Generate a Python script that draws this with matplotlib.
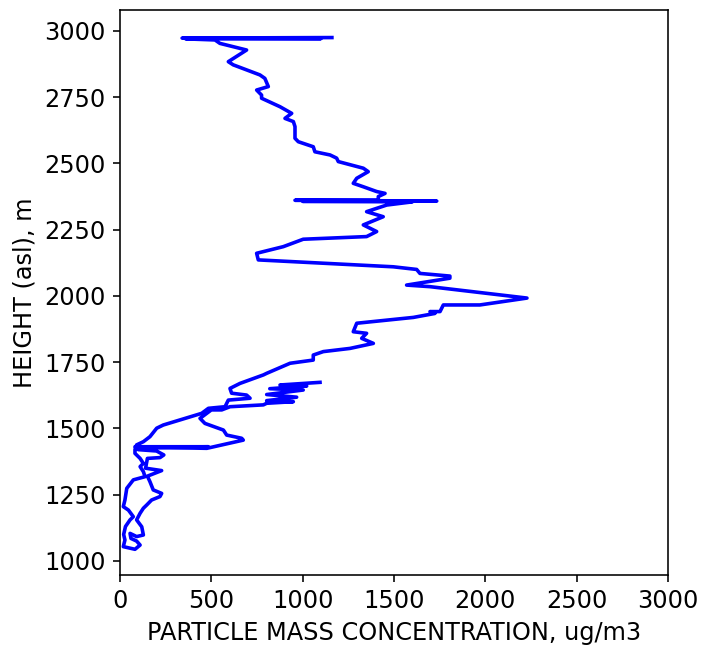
import numpy as np
import matplotlib
matplotlib.use('Agg')
import matplotlib.pyplot as plt

# particle mass concentration (ug/m3) along the profile, top to bottom
conc = [1160, 340, 700, 1100, 360, 520, 547, 693, 593, 620, 766, 793, 812, 748, 775,
        775, 876, 940, 903, 949, 958, 958, 976, 1058, 1067, 1150, 1186, 1195, 1332, 1359,
        1296, 1277, 1332, 1405, 1451, 1414, 1414, 958, 1734, 1000, 1600, 1460, 1350, 1441,
        1332, 1405, 1350, 1003, 894, 748, 757, 1496, 1624, 1642, 1806, 1806, 1569, 1697,
        2080, 2228, 1970, 1770, 1752, 1697, 1724, 1606, 1296, 1277, 1350, 1323, 1387, 1259,
        1113, 1058, 1058, 931, 803, 785, 657, 602, 611, 693, 712, 593, 575, 484, 447, 328,
        237, 201, 164, 128, 91, 82, 82, 110, 128, 110, 128, 137, 73, 37, 27,
        18, 46, 73, 55, 30, 20, 27, 18, 55, 82, 110, 91, 60, 55, 91,
        128, 119, 91, 110, 128, 146, 173, 219, 228, 182, 164, 150, 228, 140, 150,
        219, 240, 200, 100, 82, 484, 120, 400, 475, 675, 666, 584, 566, 465, 438,
        500, 557, 602, 785, 803, 949, 803, 967, 803, 1003, 820, 1022, 876, 1095]

# height above sea level (m)
height = [2975, 2973, 2972, 2971, 2970, 2966, 2953, 2928, 2884, 2872, 2834, 2821, 2790, 2777, 2758,
          2746, 2714, 2689, 2670, 2658, 2639, 2595, 2582, 2563, 2544, 2532, 2520, 2507, 2482, 2469,
          2444, 2425, 2412, 2394, 2387, 2375, 2362, 2361, 2358, 2357, 2355, 2343, 2318, 2299,
          2268, 2243, 2224, 2214, 2186, 2161, 2136, 2110, 2100, 2085, 2075, 2067, 2041, 2035,
          2004, 1992, 1966, 1966, 1941, 1941, 1934, 1919, 1897, 1865, 1859, 1840, 1821, 1802,
          1790, 1777, 1758, 1746, 1708, 1702, 1670, 1651, 1633, 1626, 1614, 1607, 1582, 1576, 1557, 1532,
          1513, 1501, 1469, 1450, 1438, 1420, 1406, 1387, 1368, 1356, 1337, 1318, 1306, 1274, 1230,
          1205, 1192, 1167, 1155, 1130, 1100, 1079, 1054, 1048, 1044, 1060, 1075, 1085, 1104, 1092,
          1098, 1129, 1155, 1180, 1199, 1211, 1230, 1243, 1255, 1268, 1299, 1320, 1341, 1350, 1387,
          1390, 1400, 1415, 1420, 1431, 1431, 1428, 1426, 1425, 1456, 1463, 1475, 1494, 1519, 1538,
          1570, 1570, 1582, 1589, 1595, 1601, 1605, 1618, 1628, 1645, 1650, 1660, 1664, 1674]

fig = plt.figure(figsize=(701 / 144, 649 / 144), dpi=144)
ax = fig.add_axes([120 / 701, 1 - 575 / 649, 548 / 701, 565 / 649])

ax.plot(conc, height, color='blue', linewidth=1.8)

ax.set_xlim(0, 3000)
ax.set_ylim(947, 3079)
ax.set_xticks(np.arange(0, 3001, 500))
ax.set_yticks(np.arange(1000, 3001, 250))
ax.tick_params(labelsize=12)
ax.set_xlabel('PARTICLE MASS CONCENTRATION, ug/m3', fontsize=12)
ax.set_ylabel('HEIGHT (asl), m', fontsize=12)

fig.savefig('out.png', dpi=144)
